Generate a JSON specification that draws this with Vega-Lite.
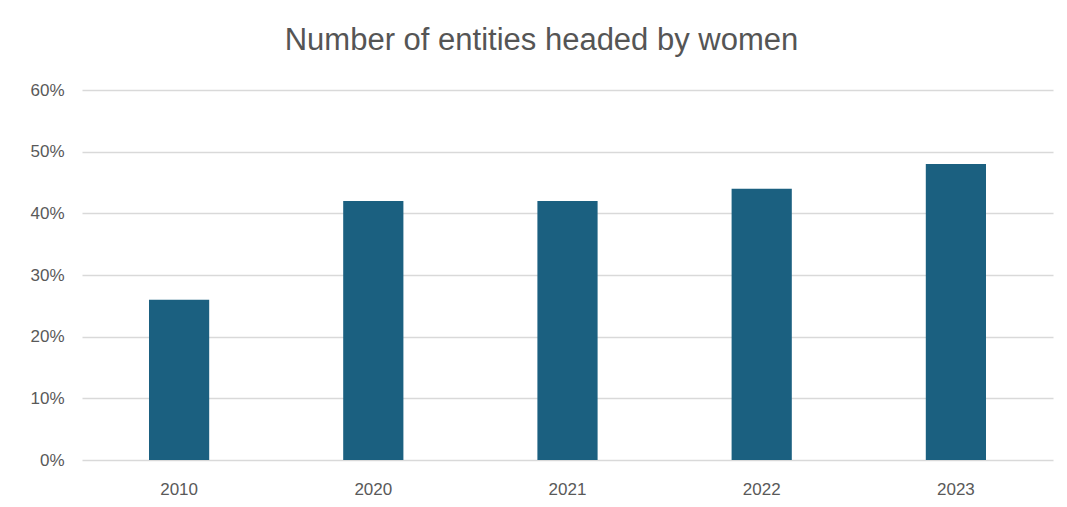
{
  "$schema": "https://vega.github.io/schema/vega-lite/v6.json",
  "width": 971,
  "height": 370,
  "autosize": {"type": "none"},
  "padding": {"left": 82, "top": 90, "right": 14, "bottom": 47},
  "background": "white",
  "title": {
    "text": "Number of entities headed by women",
    "font": "Liberation Sans",
    "fontSize": 31,
    "fontWeight": "normal",
    "color": "#555555",
    "anchor": "middle",
    "frame": "bounds",
    "offset": 24
  },
  "data": {
    "values": [
      {"year": "2010", "share": 0.26},
      {"year": "2020", "share": 0.42},
      {"year": "2021", "share": 0.42},
      {"year": "2022", "share": 0.44},
      {"year": "2023", "share": 0.48}
    ]
  },
  "mark": {"type": "bar", "color": "#1b6080"},
  "encoding": {
    "x": {
      "field": "year",
      "type": "nominal",
      "scale": {"paddingInner": 0.69, "paddingOuter": 0.345},
      "axis": {
        "title": null,
        "labelAngle": 0,
        "domain": false,
        "ticks": false,
        "labelPadding": 21,
        "labelFont": "Liberation Sans",
        "labelFontSize": 17,
        "labelColor": "#595959"
      }
    },
    "y": {
      "field": "share",
      "type": "quantitative",
      "scale": {"domain": [0, 0.6], "nice": false},
      "axis": {
        "title": null,
        "format": ".0%",
        "values": [0, 0.1, 0.2, 0.3, 0.4, 0.5, 0.6],
        "domain": false,
        "ticks": false,
        "labelPadding": 18,
        "labelFont": "Liberation Sans",
        "labelFontSize": 17,
        "labelColor": "#595959",
        "gridColor": "#d9d9d9",
        "gridWidth": 1.5
      }
    }
  },
  "config": {"view": {"stroke": null}}
}
